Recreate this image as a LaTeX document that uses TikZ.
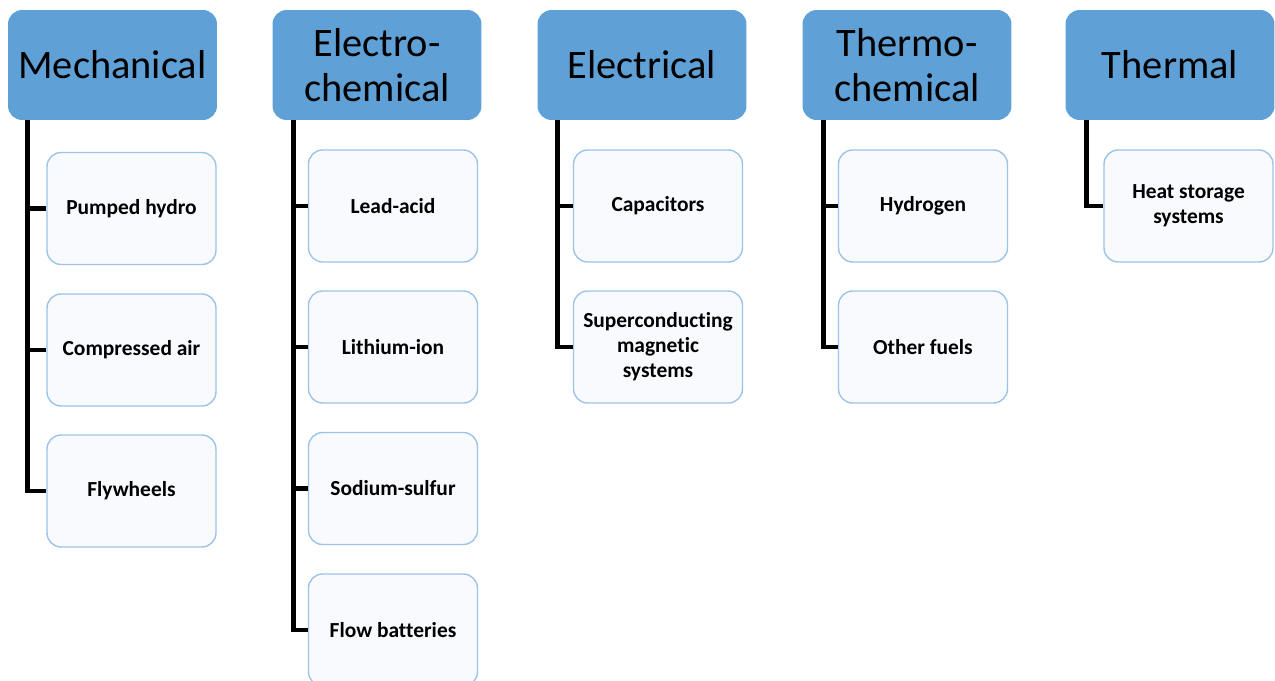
\documentclass[tikz,border=0pt]{standalone}
\usepackage{fontspec}
\setmainfont[Ligatures=NoCommon]{Carlito}
\usetikzlibrary{calc}
\definecolor{hdrblue}{HTML}{5FA1D7}
\definecolor{boxline}{HTML}{9CC3E8}
\definecolor{boxfill}{HTML}{F9FAFD}
\tikzset{cat/.style={fill=hdrblue,rounded corners=8pt,minimum width=4.18cm,minimum height=2.2cm,inner sep=0pt,align=center,font=\fontsize{23}{25.6}\selectfont},
item/.style={draw=boxline,fill=boxfill,line width=.8pt,rounded corners=8pt,minimum width=3.38cm,minimum height=2.24cm,inner sep=0pt,align=center,font=\fontsize{12.2}{14.2}\selectfont\bfseries},
stem/.style={line width=2.8pt}}
\begin{document}
\begin{tikzpicture}[x=0.02cm,y=-0.02cm]
\useasboundingbox (0,0) rectangle (1275,680);
\clip (0,0) rectangle (1275,680);
% category headers
\node[cat](mech)at(112.5,65){Mechanical};
\node[cat](echem)at(377,65){Electro-\\chemical};
\node[cat](elec)at(642,65){Electrical};
\node[cat](tchem)at(907,65){Thermo-\\chemical};
\node[cat](therm)at(1170,65){Thermal};
% storage types
\node[item](mech1)at(131.5,208.5){Pumped hydro};\node[item](mech2)at(131.5,350){Compressed air};\node[item](mech3)at(131.5,491){Flywheels};
\node[item](echem1)at(393,206){Lead-acid};\node[item](echem2)at(393,347){Lithium-ion};\node[item](echem3)at(393,488.5){Sodium-sulfur};\node[item](echem4)at(393,630){Flow batteries};
\node[item](elec1)at(658,206){Capacitors};\node[item](elec2)at(658,347){Superconducting\\magnetic\\systems};
\node[item](tchem1)at(923,206){Hydrogen};\node[item](tchem2)at(923,347){Other fuels};
\node[item](therm1)at(1188.5,206){Heat storage\\systems};
% connectors
\coordinate(ms)at($(mech.south west)+(20,0)$);\coordinate(es)at($(echem.south west)+(21,0)$);\coordinate(ls)at($(elec.south west)+(20,0)$);
\coordinate(ts)at($(tchem.south west)+(21,0)$);\coordinate(hs)at($(therm.south west)+(21,0)$);
\draw[stem](ms)|-(mech3.west);\draw[stem](ms)|-(mech2.west);\draw[stem](ms)|-(mech1.west);
\draw[stem](es)|-(echem4.west);\draw[stem](es)|-(echem3.west);\draw[stem](es)|-(echem2.west);\draw[stem](es)|-(echem1.west);
\draw[stem](ls)|-(elec2.west);\draw[stem](ls)|-(elec1.west);
\draw[stem](ts)|-(tchem2.west);\draw[stem](ts)|-(tchem1.west);
\draw[stem](hs)|-(therm1.west);
\end{tikzpicture}
\end{document}
